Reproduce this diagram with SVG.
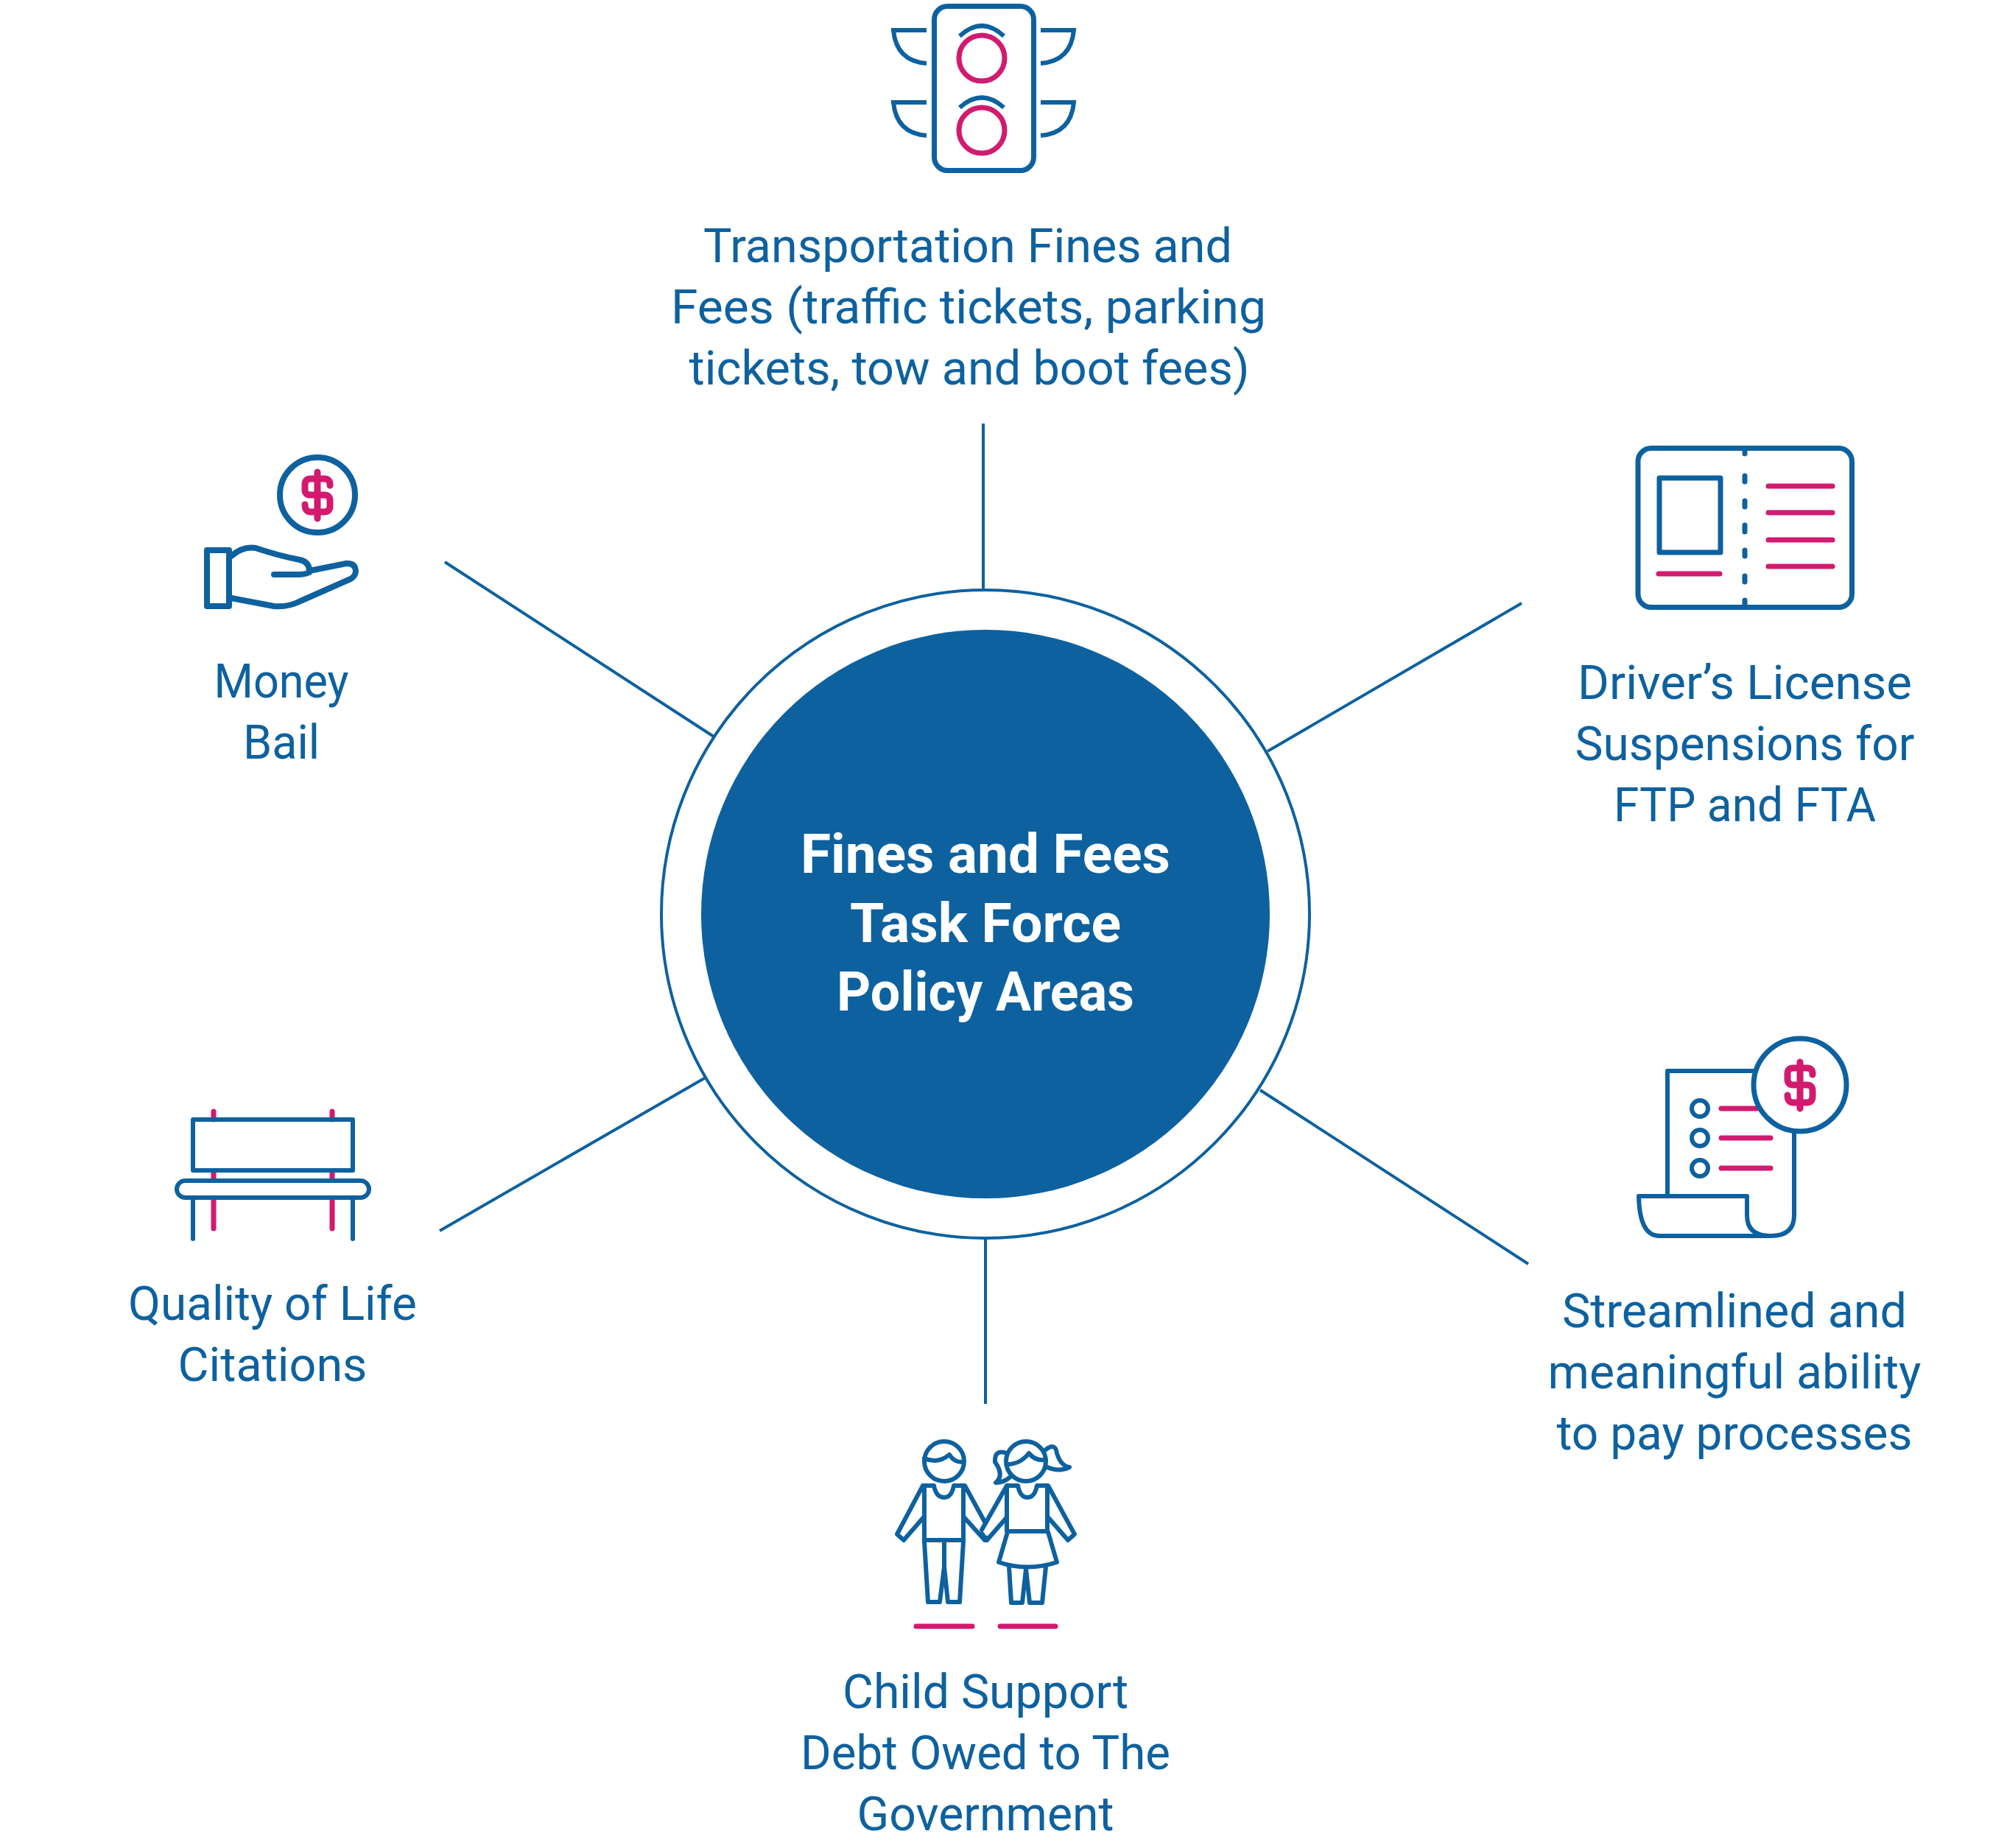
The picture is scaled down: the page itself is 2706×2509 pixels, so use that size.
<svg xmlns="http://www.w3.org/2000/svg" width="2706" height="2509" viewBox="0 0 2706 2509">
<style>
.s{fill:none;stroke:#0e619f;stroke-width:6;stroke-linecap:round;stroke-linejoin:round}
.b{stroke-width:7}
.p{fill:none;stroke:#d21a6f;stroke-width:7;stroke-linecap:round;stroke-linejoin:round}
.d{stroke-width:9}
.c{fill:none;stroke:#0e619f;stroke-width:4}
.t{font-family:Roboto,"Liberation Sans",sans-serif;font-size:64.5px;fill:#0e619f;text-anchor:middle;font-weight:400}
.h{font-family:Roboto,"Liberation Sans",sans-serif;font-size:75px;fill:#fff;text-anchor:middle;font-weight:700}
</style>
<rect width="2706" height="2509" fill="#fff"/>
<g id="connectors" class="c">
<path d="M1335 575V800M2066 819L1721 1020M2075 1716L1711 1480M1338 1682V1906M597 1671L958 1463M604 763L969 1000"/>
</g>
<g id="center">
<circle cx="1338" cy="1241" r="440" class="c"/>
<circle cx="1338" cy="1241" r="386" fill="#0e619f"/>
<text class="h" x="1338" y="1185" textLength="502" lengthAdjust="spacingAndGlyphs">Fines and Fees</text>
<text class="h" x="1338" y="1279" textLength="368" lengthAdjust="spacingAndGlyphs">Task Force</text>
<text class="h" x="1338" y="1372" textLength="404" lengthAdjust="spacingAndGlyphs">Policy Areas</text>
</g>
<g id="transport">
<rect x="1268.5" y="8.5" width="135" height="223" rx="18" class="s b"/>
<circle cx="1333" cy="79" r="31" class="p"/><circle cx="1333" cy="177" r="31" class="p"/>
<path class="s" style="stroke-linecap:butt;stroke-linejoin:miter" d="M1303 49Q1333 21 1363 49M1303 146Q1333 119 1363 146M1258 41H1213Q1217 83 1258 86M1258 139H1213Q1217 181 1258 184M1413 41H1458Q1454 83 1413 86M1413 139H1458Q1454 181 1413 184"/>
<text class="t" x="1314" y="356" textLength="718" lengthAdjust="spacingAndGlyphs">Transportation Fines and</text>
<text class="t" x="1315" y="439" textLength="808" lengthAdjust="spacingAndGlyphs">Fees (traffic tickets, parking</text>
<text class="t" x="1316" y="522" textLength="761" lengthAdjust="spacingAndGlyphs">tickets, tow and boot fees)</text>
</g>
<g id="license">
<rect x="2224" y="608.5" width="290.500" height="216" rx="18" class="s b"/>
<rect x="2253" y="649" width="83" height="101" class="s b"/>
<path class="s b" d="M2369 612V616M2369 646V654M2369 680V688M2369 713V722M2369 747V755M2369 782V790M2369 815V822"/>
<path class="p" d="M2401 660H2488M2401 696H2488M2401 733H2488M2401 769H2488M2252 779H2335"/>
<text class="t" x="2369" y="949" textLength="454" lengthAdjust="spacingAndGlyphs">Driver’s License</text>
<text class="t" x="2369" y="1032" textLength="461" lengthAdjust="spacingAndGlyphs">Suspensions for</text>
<text class="t" x="2369" y="1115" textLength="356" lengthAdjust="spacingAndGlyphs">FTP and FTA</text>
</g>
<g id="pay">
<path class="s" d="M2264 1623V1454H2385M2436 1535V1650Q2436 1678 2404 1678H2253Q2226 1678 2225 1624H2372V1650Q2372 1678 2404 1678"/>
<circle cx="2308" cy="1505" r="11" class="s"/><circle cx="2308" cy="1545" r="11" class="s"/><circle cx="2308" cy="1586" r="11" class="s"/>
<path class="p" d="M2337 1505H2385M2337 1545H2404M2337 1586H2404"/>
<circle cx="2444" cy="1473" r="63" fill="#fff" stroke="#0e619f" stroke-width="7"/>
<path class="p d" d="M2461 1459V1458Q2461 1450 2453 1450H2435Q2427 1450 2427 1458V1465Q2427 1473 2435 1473H2453Q2461 1473 2461 1481V1488Q2461 1497 2453 1497H2435Q2427 1497 2427 1487M2444 1442V1505"/>
<text class="t" x="2355" y="1802" textLength="468" lengthAdjust="spacingAndGlyphs">Streamlined and</text>
<text class="t" x="2355" y="1885" textLength="507" lengthAdjust="spacingAndGlyphs">meaningful ability</text>
<text class="t" x="2355" y="1968" textLength="483" lengthAdjust="spacingAndGlyphs">to pay processes</text>
</g>
<g id="child">
<circle cx="1282" cy="1984" r="27" class="s"/>
<path class="s" d="M1255 1980Q1273 1988 1289 1975Q1296 1986 1308 1985"/>
<path class="s" d="M1253 2017H1268Q1271 2033 1282 2033Q1292 2033 1295 2017H1310L1338 2068M1255 2017V2091M1308 2017V2091M1255 2091H1308M1253 2017L1218 2083L1227 2091L1254 2060M1309 2060L1337 2091L1340 2088M1255 2093L1260 2175H1276L1282 2127L1287 2175H1303L1308 2093M1282 2091V2127"/>
<circle cx="1393" cy="1984" r="27" class="s"/>
<path class="s" d="M1368 1988Q1385 1988 1397 1973Q1406 1984 1420 1982"/>
<path class="s" d="M1367 1973Q1350 1967 1351 1985Q1364 2003 1352 2013Q1363 2013 1372 2005M1420 1968Q1433 1958 1435 1973Q1440 1990 1452 1992Q1438 1999 1422 1992"/>
<path class="s" d="M1367 2017H1382Q1385 2033 1395 2033Q1405 2033 1408 2017H1423L1459 2083L1450 2091L1423 2060M1367 2017L1333 2077M1367 2060L1340 2091L1333 2082M1367 2017V2079M1422 2017V2079M1367 2079H1422M1368 2080L1356 2121Q1395 2134 1435 2121L1423 2080M1370 2127L1373 2176H1388L1393 2130L1398 2176H1415L1420 2127"/>
<path class="p" d="M1244 2208H1320M1358 2208H1433"/>
<text class="t" x="1338" y="2319" textLength="388" lengthAdjust="spacingAndGlyphs">Child Support</text>
<text class="t" x="1338" y="2402" textLength="502" lengthAdjust="spacingAndGlyphs">Debt Owed to The</text>
<text class="t" x="1338" y="2485" textLength="349" lengthAdjust="spacingAndGlyphs">Government</text>
</g>
<g id="bench">
<path class="p" d="M290 1509V1520M451 1509V1520M290 1592V1600M451 1592V1600M290 1630V1668M451 1630V1668"/>
<rect x="262" y="1520" width="217" height="69" class="s"/>
<rect x="240" y="1603" width="261" height="23" rx="11.500" class="s"/>
<path class="s" d="M262 1627V1682M479 1627V1682"/>
<text class="t" x="370" y="1792" textLength="392" lengthAdjust="spacingAndGlyphs">Quality of Life</text>
<text class="t" x="370" y="1875" textLength="257" lengthAdjust="spacingAndGlyphs">Citations</text>
</g>
<g id="bail">
<circle cx="431" cy="672" r="51" class="s" style="stroke-width:8"/>
<path class="p d" d="M448 659V658Q448 650 440 650H422Q414 650 414 658V665Q414 672 422 672H440Q448 672 448 680V687Q448 695 440 695H422Q414 695 414 685M431 641V704"/>
<path class="s" style="stroke-width:8" d="M281 747H311V823H281ZM314 755Q330 741 347 744Q380 755 407 760Q420 763 420 775L470 765Q482 764 483 775Q483 782 476 786L408 816Q390 825 372 823L314 812M372 780H405Q414 780 420 777"/>
<text class="t" x="382" y="947" textLength="183" lengthAdjust="spacingAndGlyphs">Money</text>
<text class="t" x="382" y="1030" textLength="104" lengthAdjust="spacingAndGlyphs">Bail</text>
</g>
</svg>
